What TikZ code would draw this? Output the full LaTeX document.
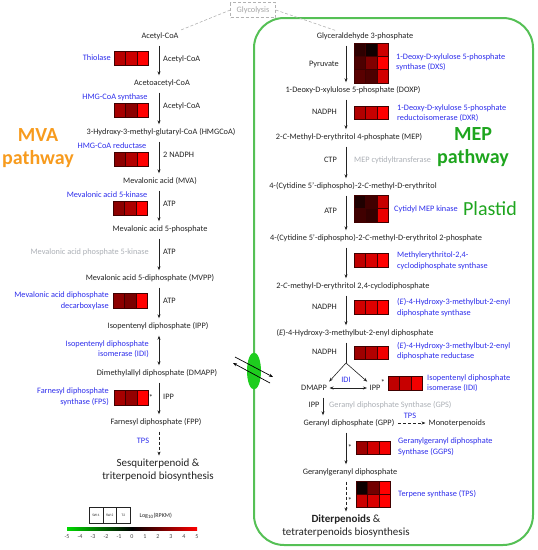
\documentclass[tikz,border=0pt]{standalone}
\usepackage{fontspec}
\setmainfont{Carlito}
\usetikzlibrary{arrows.meta, calc}

\definecolor{enzblue}{RGB}{45,45,235}
\definecolor{enzgray}{RGB}{172,176,182}
\definecolor{mvaorange}{RGB}{247,155,30}
\definecolor{mepgreen}{RGB}{30,165,30}
\definecolor{plastidline}{RGB}{85,192,85}
\definecolor{carrier}{RGB}{30,205,30}
\definecolor{txt}{RGB}{35,35,35}

% one row of three heat cells: x, y, height, then red shares of the cells
\newcommand{\heatrow}[6]{%
  \filldraw[heatcell, fill=red!#4!black] (#1,#2) rectangle ++(11.4,-#3);
  \filldraw[heatcell, fill=red!#5!black] (#1+11.4,#2) rectangle ++(11.4,-#3);
  \filldraw[heatcell, fill=red!#6!black] (#1+22.8,#2) rectangle ++(11.4,-#3);}

\begin{document}
\begin{tikzpicture}[x=1pt,y=1pt,
    cmp/.style={text=txt, font=\fontsize{8.3}{10}\selectfont, inner sep=1.5pt, text height=6pt, text depth=2pt},
    cof/.style={cmp, inner sep=1pt},
    enz/.style={text=enzblue, font=\fontsize{8.3}{10.5}\selectfont, inner sep=1pt},
    enzoff/.style={enz, text=enzgray},
    big/.style={text=txt, font=\fontsize{11}{13}\selectfont, align=center, inner sep=1pt},
    title/.style={font=\fontsize{20}{23}\selectfont\bfseries, align=center, inner sep=0pt},
    arr/.style={-{Stealth[length=4pt,width=3pt]}, line width=0.6pt, draw=txt, shorten <=4pt, shorten >=2pt},
    darr/.style={arr, {Stealth[length=4pt,width=3pt]}-{Stealth[length=4pt,width=3pt]}},
    heatcell/.style={draw=red!25!black, line width=0.25pt},
    legcell/.style={draw=txt, line width=0.4pt, minimum width=13.7, minimum height=16, inner sep=0pt, text=txt, font=\fontsize{3.5}{4}\selectfont}]
  \useasboundingbox (0,0) rectangle (538,-550);

  % plastid and carrier
  \draw[plastidline, line width=2pt, rounded corners=30pt] (254,-18) rectangle (533,-545);
  \fill[carrier] (254,-371) ellipse [x radius=7, y radius=18.5];
  \coordinate (trin) at (235,-357);
  \coordinate (trinend) at (273,-377);
  \coordinate (trout) at (270,-383);
  \coordinate (troutend) at (233,-363);
  \draw[-{Stealth[length=4pt,width=3pt]}, line width=0.7pt, black] (trin) -- (trinend);
  \draw[-{Stealth[length=4pt,width=3pt]}, line width=0.7pt, black] (trout) -- (troutend);

  % titles
  \node[title, text=mvaorange] (mvat) at (38,-148) {MVA\\pathway};
  \node[title, text=mepgreen] (mept) at (473,-147) {MEP\\pathway};
  \node[font=\fontsize{20}{23}\selectfont, text=mepgreen, inner sep=0pt] (plastid) at (490,-209) {Plastid};

  % glycolysis
  \node[draw=black!30, densely dashed, text=black!35, font=\fontsize{8.3}{9}\selectfont, minimum width=45, minimum height=15, inner sep=1pt] (glyc) at (253,-10) {Glycolysis};

  %%% MVA pathway
  \coordinate (mvax) at (159,0);
  \node[cmp] (acoa) at (160,-36) {Acetyl-CoA};
  \node[cmp] (aacoa) at (162,-83) {Acetoacetyl-CoA};
  \node[cmp] (hmgcoa) at (161,-132) {3-Hydroxy-3-methyl-glutaryl-CoA (HMGCoA)};
  \node[cmp] (mva) at (160,-181) {Mevalonic acid (MVA)};
  \node[cmp] (mvap) at (160,-229) {Mevalonic acid 5-phosphate};
  \node[cmp] (mvpp) at (150,-278) {Mevalonic acid 5-diphosphate (MVPP)};
  \node[cmp] (ippl) at (158,-326) {Isopentenyl diphosphate (IPP)};
  \node[cmp] (dmappl) at (157,-373) {Dimethylallyl diphosphate (DMAPP)};
  \node[cmp] (fpp) at (156,-422) {Farnesyl diphosphate (FPP)};
  \node[big] (sesq) at (158,-470) {Sesquiterpenoid \&\\triterpenoid biosynthesis};

  \draw[arr] (acoa.south -| mvax) -- (aacoa.north -| mvax);
  \draw[arr] (aacoa.south -| mvax) -- (hmgcoa.north -| mvax);
  \draw[arr] (hmgcoa.south -| mvax) -- (mva.north -| mvax);
  \draw[arr] (mva.south -| mvax) -- (mvap.north -| mvax);
  \draw[arr] (mvap.south -| mvax) -- (mvpp.north -| mvax);
  \draw[arr] (mvpp.south -| mvax) -- (ippl.north -| mvax);
  \draw[darr] (ippl.south -| mvax) -- (dmappl.north -| mvax);
  \draw[arr] (dmappl.south -| mvax) -- (fpp.north -| mvax);
  \draw[arr, densely dashed] (fpp.south -| mvax) -- (sesq.north -| mvax);

  \node[cof, anchor=west] (cofa) at (162,-59) {Acetyl-CoA};
  \node[cof, anchor=west] (cofb) at (162,-106) {Acetyl-CoA};
  \node[cof, anchor=west] (cofc) at (162,-155) {2 NADPH};
  \node[cof, anchor=west] (cofd) at (162,-204) {ATP};
  \node[cof, anchor=west] (cofe) at (162,-252) {ATP};
  \node[cof, anchor=west] (coff) at (162,-301) {ATP};
  \node[cof, anchor=west] (cofg) at (162,-397) {IPP};

  \node[enz, anchor=east] (thio) at (112,-58) {Thiolase};
  \node[enz] (hmgs) at (115,-97) {HMG-CoA synthase};
  \node[enz] (hmgr) at (112,-146) {HMG-CoA reductase};
  \node[enz] (mk) at (107,-195) {Mevalonic acid 5-kinase};
  \node[enzoff, anchor=east] (pmk) at (150,-252) {Mevalonic acid phosphate 5-kinase};
  \node[enz, anchor=east, align=right] (mvd) at (110,-301) {Mevalonic acid diphosphate\\decarboxylase};
  \node[enz, anchor=east, align=right] (idil) at (150,-349) {Isopentenyl diphosphate\\isomerase (IDI)};
  \node[enz, anchor=east, align=right] (fps) at (110,-397) {Farnesyl diphosphate\\synthase (FPS)};
  \node[enz] (tpsl) at (143,-441) {TPS};
  \node[cmp] (astl) at (151,-398) {*};

  \heatrow{114}{-51}{14}{72}{80}{100}
  \heatrow{114}{-103}{14}{65}{55}{100}
  \heatrow{114}{-152}{14}{55}{70}{100}
  \heatrow{113}{-201}{14}{55}{68}{100}
  \heatrow{113}{-293}{15}{55}{48}{100}
  \heatrow{114}{-390}{15}{65}{58}{100}

  \draw[black!30, densely dashed, line width=0.6pt] (glyc.west) -- (acoa.north east);

  %%% MEP pathway
  \coordinate (mepx) at (346,0);
  \node[cmp] (g3p) at (365,-36) {Glyceraldehyde 3-phosphate};
  \node[cmp] (doxp) at (353,-90) {1-Deoxy-D-xylulose 5-phosphate (DOXP)};
  \node[cmp] (mep) at (349,-137) {2-\textit{C}-Methyl-D-erythritol 4-phosphate (MEP)};
  \node[cmp] (cdpme) at (353,-186) {4-(Cytidine 5'-diphospho)-2-\textit{C}-methyl-D-erythritol};
  \node[cmp] (cdpmep) at (376,-238) {4-(Cytidine 5'-diphospho)-2-\textit{C}-methyl-D-erythritol 2-phosphate};
  \node[cmp] (mecpp) at (353,-286) {2-\textit{C}-methyl-D-erythritol 2,4-cyclodiphosphate};
  \node[cmp] (hmbpp) at (355,-333) {(\textit{E})-4-Hydroxy-3-methylbut-2-enyl diphosphate};
  \coordinate (br) at (346,-363);
  \node[cmp] (dmappr) at (314,-388) {DMAPP};
  \node[cmp] (ippr) at (375,-388) {IPP};
  \node[cmp] (gpp) at (349,-423) {Geranyl diphosphate (GPP)};
  \node[cmp] (mono) at (457,-423) {Monoterpenoids};
  \node[cmp] (ggpp) at (350,-472) {Geranylgeranyl diphosphate};
  \node[big] (dit) at (346,-526) {\textbf{Diterpenoids} \&\\tetraterpenoids biosynthesis};

  \draw[arr] (g3p.south -| mepx) -- (doxp.north -| mepx);
  \draw[arr] (doxp.south -| mepx) -- (mep.north -| mepx);
  \draw[arr] (mep.south -| mepx) -- (cdpme.north -| mepx);
  \draw[arr] (cdpme.south -| mepx) -- (cdpmep.north -| mepx);
  \draw[arr] (cdpmep.south -| mepx) -- (mecpp.north -| mepx);
  \draw[arr] (mecpp.south -| mepx) -- (hmbpp.north -| mepx);
  \draw[line width=0.6pt, txt, shorten <=4pt] (hmbpp.south -| mepx) -- (br);
  \draw[arr, shorten <=0pt, shorten >=1pt] (br) -- (dmappr.north east);
  \draw[arr, shorten <=0pt, shorten >=1pt] (br) -- (ippr.north west);
  \draw[darr, shorten <=1pt, shorten >=1pt] (dmappr.east) -- (ippr.west);
  \coordinate (gpsx) at (323,0);
  \draw[arr] (dmappr.south -| gpsx) -- (gpp.north -| gpsx);
  \draw[arr, densely dashed, shorten <=2pt, shorten >=1.5pt] (gpp.east) -- (mono.west);
  \draw[arr] (gpp.south -| mepx) -- (ggpp.north -| mepx);
  \draw[arr, densely dashed] (ggpp.south -| mepx) -- (dit.north -| mepx);

  \node[cof, anchor=east] (cofh) at (340,-64) {Pyruvate};
  \node[cof, anchor=east] (cofi) at (338,-112) {NADPH};
  \node[cof, anchor=east] (cofj) at (338,-160) {CTP};
  \node[cof, anchor=east] (cofk) at (338,-211) {ATP};
  \node[cof, anchor=east] (cofl) at (338,-307) {NADPH};
  \node[cof, anchor=east] (cofm) at (338,-352) {NADPH};
  \node[cof] (cofn) at (314,-405) {IPP};

  \node[enz, anchor=west, align=left] (dxs) at (395,-62.5) {1-Deoxy-D-xylulose 5-phosphate\\synthase (DXS)};
  \node[enz, anchor=west, align=left] (dxr) at (396,-113) {1-Deoxy-D-xylulose 5-phosphate\\reductoisomerase (DXR)};
  \node[enzoff, anchor=west] (ispd) at (353,-160) {MEP cytidyltransferase};
  \node[enz, anchor=west] (ispe) at (393,-209) {Cytidyl MEP kinase};
  \node[enz, anchor=west, align=left] (ispf) at (396,-261) {Methylerythritol-2,4-\\cyclodiphosphate synthase};
  \node[enz, anchor=west, align=left] (ispg) at (396,-307.5) {(\textit{E})-4-Hydroxy-3-methylbut-2-enyl\\diphosphate synthase};
  \node[enz, anchor=west, align=left] (isph) at (396,-351) {(\textit{E})-4-Hydroxy-3-methylbut-2-enyl\\diphosphate reductase};
  \node[enz, anchor=west, align=left] (idir) at (426,-383) {Isopentenyl diphosphate\\isomerase (IDI)};
  \node[enz] (idis) at (346,-380) {IDI};
  \node[enzoff, anchor=west] (gps) at (328,-405) {Geranyl diphosphate Synthase (GPS)};
  \node[enz] (tpsm) at (410,-416) {TPS};
  \node[enz, anchor=west, align=left] (ggps) at (397,-447) {Geranylgeranyl diphosphate\\Synthase (GGPS)};
  \node[enz, anchor=west] (tps) at (397,-494) {Terpene synthase (TPS)};
  \node[cmp] (astr) at (383,-383) {*};
  \node[cmp] (astg) at (350,-448) {*};
  \node[cmp] (astt) at (350,-501) {*};

  \heatrow{354}{-43}{13.3}{18}{6}{80}
  \heatrow{354}{-56.3}{13.3}{30}{50}{100}
  \heatrow{354}{-69.6}{13.3}{35}{30}{82}
  \heatrow{354}{-106}{13}{70}{78}{100}
  \heatrow{354}{-195}{13.5}{12}{25}{78}
  \heatrow{354}{-208.5}{13.5}{25}{20}{92}
  \heatrow{354}{-253}{14}{75}{85}{100}
  \heatrow{354}{-300}{14}{82}{88}{100}
  \heatrow{354}{-346}{13}{62}{70}{95}
  \heatrow{388}{-376}{14}{75}{78}{95}
  \heatrow{356}{-441}{13}{62}{82}{96}
  \heatrow{356}{-481}{13}{5}{45}{100}
  \heatrow{356}{-494}{13}{80}{85}{100}

  \draw[black!30, densely dashed, line width=0.6pt] (glyc.east) -- ($(g3p.north west)!0.2!(g3p.north east)$);

  %%% legend
  \node[legcell] (sw1) at (96,-515) {SW-1};
  \node[legcell] (sw2) at (109.7,-515) {SW-2};
  \node[legcell] (t2) at (123.4,-515) {T2};
  \node[anchor=west, text=txt, font=\fontsize{6}{7}\selectfont] (leglog) at (136,-516) {Log\textsubscript{10}(RPKM)};
  \shade[left color=green!85!black, right color=red, middle color=black] (67,-527) rectangle (197,-530.5);
  \foreach \v in {-5,...,5}
    \node[text=txt!85, font=\fontsize{6}{7}\selectfont] (tick\v) at ({132+13*\v},-537) {\v};
\end{tikzpicture}
\end{document}
